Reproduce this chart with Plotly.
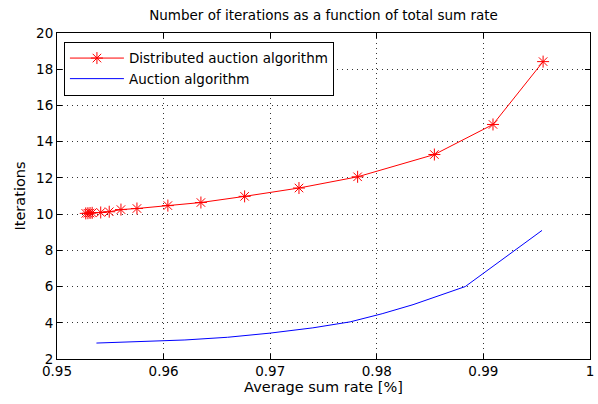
import plotly.graph_objects as go

# Distributed auction algorithm (red, star markers)
dist_x = [0.9527, 0.9529, 0.9531, 0.9533, 0.9541, 0.9549, 0.9560, 0.9575,
          0.9604, 0.9635, 0.9676, 0.9727, 0.9782, 0.9854, 0.9909, 0.9956]
dist_y = [10.04, 10.05, 10.06, 10.07, 10.09, 10.13, 10.25, 10.31,
          10.47, 10.64, 10.98, 11.44, 12.06, 13.29, 14.95, 18.42]

# Auction algorithm (blue line)
auc_x = [0.9537, 0.9580, 0.9620, 0.9660, 0.9700, 0.9740, 0.9775, 0.9805,
         0.9834, 0.9883, 0.9955]
auc_y = [2.88, 2.95, 3.05, 3.20, 3.43, 3.72, 4.05, 4.50, 5.00, 6.00, 9.10]

x_ticks = [0.95, 0.96, 0.97, 0.98, 0.99, 1.0]
x_tick_labels = ["0.95", "0.96", "0.97", "0.98", "0.99", "1"]
y_ticks = [2, 4, 6, 8, 10, 12, 14, 16, 18, 20]

font = "DejaVu Sans, Arial, sans-serif"
fs = 13.5
fs_lab = 14.5

fig = go.Figure()
fig.add_trace(go.Scatter(
    x=dist_x, y=dist_y, mode="lines+markers",
    name="Distributed auction algorithm",
    line=dict(color="#ff0000", width=1),
    marker=dict(symbol="asterisk-open", size=10, color="#ff0000",
                line=dict(color="#ff0000", width=1)),
))
fig.add_trace(go.Scatter(
    x=auc_x, y=auc_y, mode="lines",
    name="Auction algorithm",
    line=dict(color="#0000ff", width=1),
))

axis_common = dict(
    showline=True, linecolor="black", linewidth=1, mirror="ticks",
    ticks="inside", ticklen=5, tickcolor="black",
    showgrid=True, gridcolor="#333333", griddash="1px,4px", gridwidth=1,
    zeroline=False, automargin=False,
    tickfont=dict(family=font, size=fs, color="black"),
)

fig.update_layout(
    width=598, height=404,
    margin=dict(l=57, r=8, t=33, b=45),
    paper_bgcolor="white", plot_bgcolor="white",
    font=dict(family=font, size=fs, color="black"),
    title=dict(text="Number of iterations as a function of total sum rate",
               x=0.5, xref="paper", xanchor="center", y=0.962, yanchor="middle",
               font=dict(family=font, size=fs, color="black")),
    xaxis=dict(range=[0.95, 1.0000001], tickvals=x_ticks, ticktext=x_tick_labels,
               title=dict(text="Average sum rate [%]", standoff=2,
                          font=dict(family=font, size=fs_lab)),
               **axis_common),
    yaxis=dict(range=[2, 20.00001], tickvals=y_ticks,
               title=dict(text="Iterations", standoff=7,
                          font=dict(family=font, size=fs_lab)),
               **axis_common),
    legend=dict(x=0.013, y=0.973, xanchor="left", yanchor="top",
                bgcolor="white", bordercolor="black", borderwidth=1,
                font=dict(family=font, size=fs, color="black"),
                itemwidth=54, tracegroupgap=0),
    showlegend=True,
)

fig.write_html(
    "out.html",
    config={"displayModeBar": False},
    post_script="document.body.style.margin='0';document.body.style.padding='0';",
)
